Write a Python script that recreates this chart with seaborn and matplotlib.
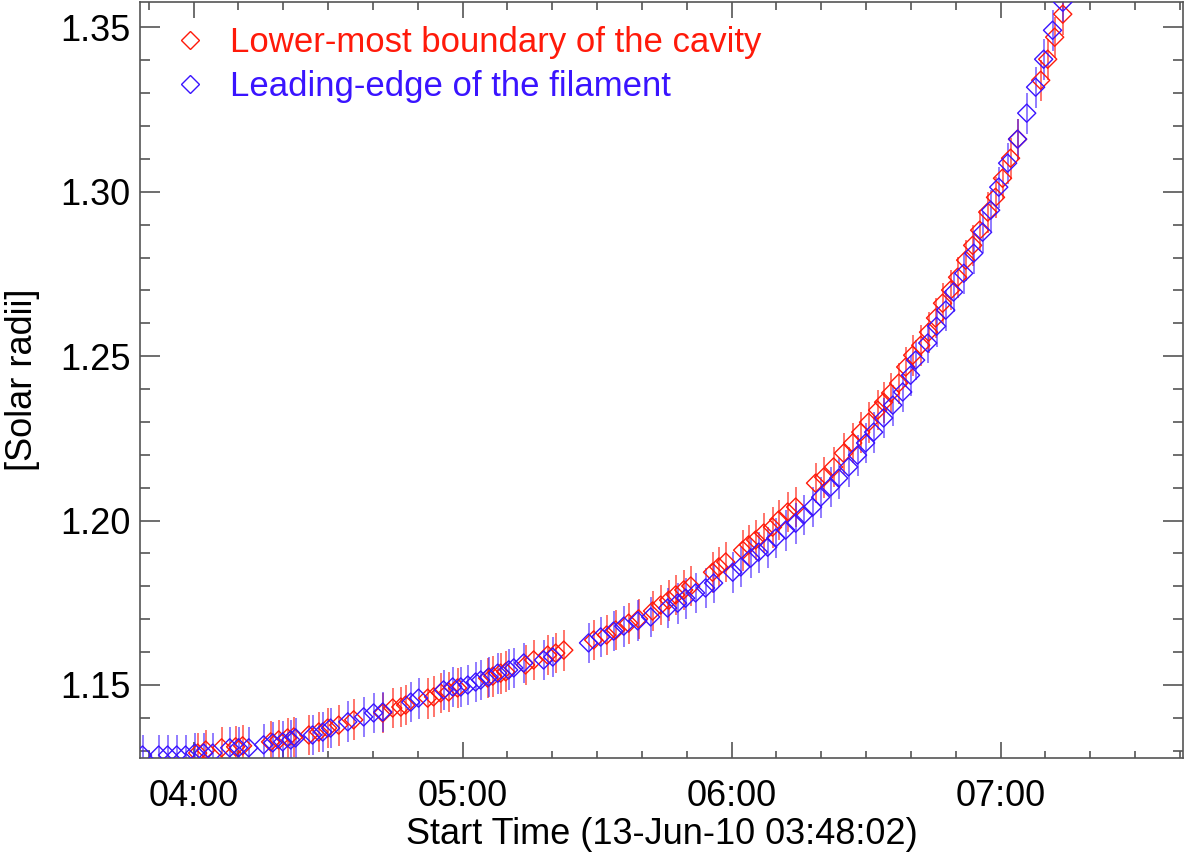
import matplotlib
matplotlib.use("Agg")
import matplotlib.pyplot as plt
import numpy as np
import pandas as pd
import seaborn as sns
from matplotlib.lines import Line2D
from matplotlib.ticker import FixedLocator, MultipleLocator

# ---------------- data (time in decimal hours of 13-Jun-2010, radius in solar radii)
red_label = "Lower-most boundary of the cavity"
blue_label = "Leading-edge of the filament"

red_time_h = [4.015, 4.045, 4.104, 4.156, 4.182, 4.286, 4.316, 4.349, 4.372, 4.428,
              4.465, 4.498, 4.539, 4.595, 4.703, 4.740, 4.770, 4.788, 4.870, 4.892,
              4.918, 4.948, 4.981, 5.093, 5.112, 5.141, 5.160, 5.234, 5.264, 5.316,
              5.346, 5.376, 5.487, 5.535, 5.569, 5.617, 5.654, 5.706, 5.736, 5.766,
              5.792, 5.822, 5.848, 5.929, 5.952, 5.978, 6.041, 6.063, 6.089, 6.119,
              6.152, 6.175, 6.208, 6.238, 6.312, 6.342, 6.379, 6.416, 6.450, 6.480,
              6.509, 6.543, 6.565, 6.591, 6.621, 6.647, 6.673, 6.703, 6.732, 6.758,
              6.784, 6.814, 6.840, 6.870, 6.896, 6.922, 6.952, 6.981, 7.007, 7.037,
              7.063, 7.149, 7.175, 7.201, 7.231]
red_radius = [1.1293, 1.1302, 1.1309, 1.1312, 1.1315, 1.1327, 1.1333, 1.1339, 1.1342, 1.1348,
              1.1357, 1.1369, 1.1378, 1.1394, 1.1415, 1.1430, 1.1433, 1.1439, 1.1460, 1.1464,
              1.1476, 1.1479, 1.1491, 1.1521, 1.1527, 1.1536, 1.1540, 1.1561, 1.1576, 1.1591,
              1.1597, 1.1606, 1.1637, 1.1652, 1.1667, 1.1688, 1.1701, 1.1725, 1.1743, 1.1758,
              1.1774, 1.1789, 1.1801, 1.1843, 1.1859, 1.1874, 1.1910, 1.1926, 1.1941, 1.1962,
              1.1980, 1.2002, 1.2026, 1.2041, 1.2114, 1.2132, 1.2163, 1.2205, 1.2236, 1.2269,
              1.2299, 1.2336, 1.2360, 1.2388, 1.2418, 1.2467, 1.2503, 1.2533, 1.2573, 1.2616,
              1.2661, 1.2701, 1.2740, 1.2792, 1.2837, 1.2883, 1.2938, 1.2983, 1.3041, 1.3102,
              1.3160, 1.3339, 1.3403, 1.3470, 1.3540]

blue_time_h = [3.810, 3.870, 3.903, 3.937, 3.970, 4.004, 4.037, 4.071, 4.134, 4.167,
               4.205, 4.260, 4.294, 4.331, 4.361, 4.379, 4.442, 4.480, 4.509, 4.573,
               4.632, 4.669, 4.703, 4.807, 4.836, 4.929, 4.963, 4.993, 5.019, 5.048,
               5.067, 5.097, 5.130, 5.171, 5.190, 5.227, 5.301, 5.335, 5.468, 5.513,
               5.561, 5.599, 5.651, 5.699, 5.762, 5.799, 5.829, 5.866, 5.903, 5.933,
               6.004, 6.034, 6.071, 6.100, 6.134, 6.164, 6.201, 6.238, 6.268, 6.301,
               6.331, 6.368, 6.398, 6.435, 6.468, 6.498, 6.528, 6.565, 6.599, 6.636,
               6.665, 6.684, 6.729, 6.762, 6.796, 6.825, 6.863, 6.900, 6.933, 6.963,
               6.993, 7.026, 7.063, 7.097, 7.130, 7.160, 7.193, 7.231]
blue_radius = [1.1287, 1.1287, 1.1287, 1.1287, 1.1287, 1.1293, 1.1293, 1.1293, 1.1309, 1.1309,
               1.1309, 1.1318, 1.1324, 1.1327, 1.1333, 1.1339, 1.1348, 1.1357, 1.1369, 1.1388,
               1.1403, 1.1415, 1.1418, 1.1448, 1.1460, 1.1485, 1.1494, 1.1494, 1.1500, 1.1509,
               1.1515, 1.1524, 1.1536, 1.1546, 1.1552, 1.1567, 1.1576, 1.1585, 1.1628, 1.1646,
               1.1664, 1.1679, 1.1695, 1.1707, 1.1734, 1.1749, 1.1764, 1.1780, 1.1795, 1.1810,
               1.1843, 1.1859, 1.1886, 1.1904, 1.1919, 1.1947, 1.1971, 1.1992, 1.2017, 1.2041,
               1.2071, 1.2102, 1.2129, 1.2163, 1.2199, 1.2236, 1.2269, 1.2312, 1.2351, 1.2391,
               1.2442, 1.2488, 1.2540, 1.2591, 1.2640, 1.2695, 1.2752, 1.2813, 1.2877, 1.2944,
               1.3014, 1.3087, 1.3160, 1.3239, 1.3318, 1.3403, 1.3491, 1.3576]

red_err = 0.0062
blue_err = 0.0062

x_major = [4, 5, 6, 7]
x_major_labels = ["04:00", "05:00", "06:00", "07:00"]
y_major = [1.15, 1.20, 1.25, 1.30, 1.35]
y_major_labels = ["1.15", "1.20", "1.25", "1.30", "1.35"]
x_start_h = 3 + 48 / 60 + 2 / 3600      # 03:48:02
x_end_h = 7.678
y_range = (1.1278, 1.3577)

x_label = "Start Time (13-Jun-10 03:48:02)"
y_label = "[Solar radii]"

RED = "#ff1a0a"
BLUE = "#3a14ff"

# ---------------- style
sns.set_theme(style="ticks")
plt.rcParams['font.family'] = ['Liberation Sans', 'DejaVu Sans']
plt.rcParams['text.color'] = 'black'
plt.rcParams['axes.labelcolor'] = 'black'

W, H = 1186, 855
fig = plt.figure(figsize=(W / 100, H / 100), dpi=100)
ax = fig.add_axes([140 / W, 1 - 758 / H, (1183 - 140) / W, (758 - 2) / H])

df = pd.concat([
    pd.DataFrame({"time": red_time_h, "radius": red_radius, "series": red_label}),
    pd.DataFrame({"time": blue_time_h, "radius": blue_radius, "series": blue_label}),
], ignore_index=True)

# error bars
ax.errorbar(red_time_h, red_radius, yerr=red_err, fmt="none", ecolor=RED,
            elinewidth=1.3, alpha=0.65, capsize=0, zorder=2)
ax.errorbar(blue_time_h, blue_radius, yerr=blue_err, fmt="none", ecolor=BLUE,
            elinewidth=1.3, alpha=0.6, capsize=0, zorder=2)

# open diamonds
sns.scatterplot(data=df, x="time", y="radius", hue="series",
                palette={red_label: RED, blue_label: BLUE},
                marker="D", s=85, linewidth=1.0, legend=False, ax=ax, zorder=3)
pc = ax.collections[-1]
fcs = pc.get_facecolors()
pc.set_edgecolors(fcs)
pc.set_facecolors("none")
pc.set_linewidths(1.0)

ax.set_xlim(x_start_h, x_end_h)
ax.set_ylim(*y_range)

ax.xaxis.set_major_locator(FixedLocator(x_major))
ax.set_xticklabels(x_major_labels)
ax.xaxis.set_minor_locator(MultipleLocator(1 / 6))
ax.yaxis.set_major_locator(FixedLocator(y_major))
ax.set_yticklabels(y_major_labels)
ax.yaxis.set_minor_locator(MultipleLocator(0.01))

TC = "#555555"
ax.tick_params(which="both", direction="in", top=True, right=True, color=TC,
               width=1.2, labelsize=26, labelcolor="black")
ax.tick_params(axis="x", which="major", length=11.5, pad=15)
ax.tick_params(axis="x", which="minor", length=5.4)
ax.tick_params(axis="y", which="major", length=14.4, pad=7)
ax.tick_params(axis="y", which="minor", length=7.2)
for sp in ax.spines.values():
    sp.set_color(TC)
    sp.set_linewidth(1.2)

ax.set_xlabel(x_label, fontsize=26, labelpad=2, color="black")
ax.set_ylabel(y_label, fontsize=26, labelpad=14, color="black")

handles = [Line2D([], [], marker="D", ls="none", mfc="none", mec=RED, ms=9.2, mew=1.0),
           Line2D([], [], marker="D", ls="none", mfc="none", mec=BLUE, ms=9.2, mew=1.0)]
ax.legend(handles, [red_label, blue_label], loc="upper left",
          bbox_to_anchor=((176 - 140) / 1043, 1 - (26 - 2) / 756),
          frameon=False, fontsize=25, labelcolor=[RED, BLUE], borderpad=0,
          borderaxespad=0, handlelength=0.8, handletextpad=0.75, labelspacing=0.33)

fig.savefig("out.png", dpi=100)
